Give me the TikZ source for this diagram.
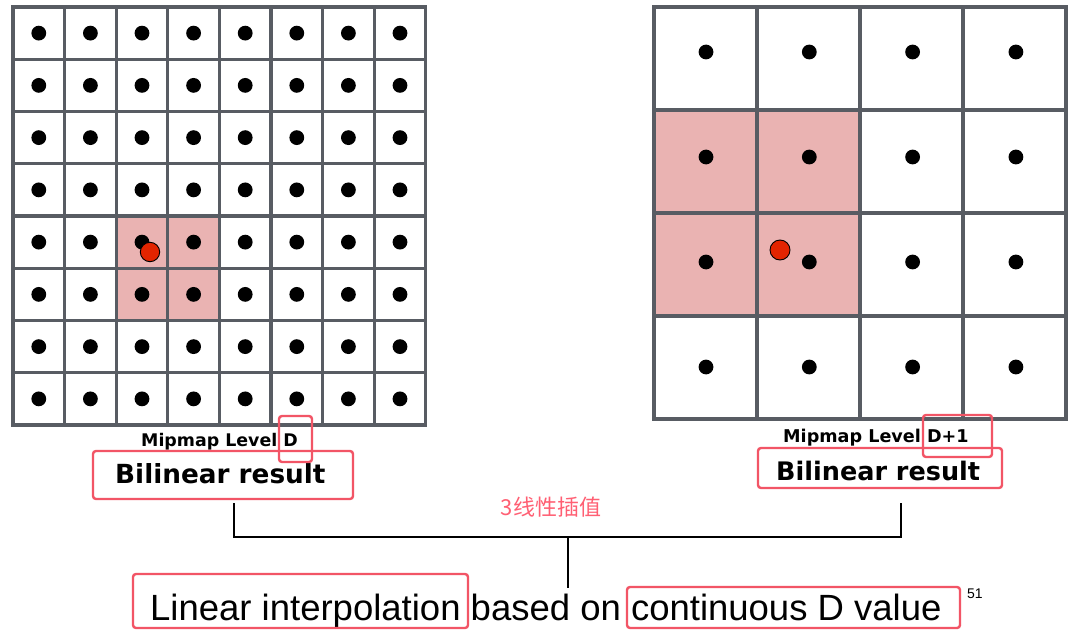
\documentclass[tikz,border=0pt]{standalone}
\usepackage{fontspec}
\setmainfont{Liberation Sans}
\newfontfamily\lblfont{DejaVu Sans}
\newfontfamily\cjkfont{Noto Sans CJK SC}
\definecolor{gridgray}{RGB}{88,92,99}
\definecolor{cellpink}{RGB}{234,179,178}
\definecolor{boxred}{RGB}{242,85,102}
\definecolor{cjkpink}{RGB}{255,95,115}
\definecolor{dotred}{RGB}{226,36,0}
\tikzset{
  gridline/.style={draw=gridgray, line width=3.1pt, line cap=rect},
  texel/.style={fill=black},
  sample/.style={fill=dotred, draw=black, line width=0.9pt},
  redbox/.style={draw=boxred, line width=2.4pt, rounded corners=3pt},
  bracket/.style={draw=black, line width=2.5pt},
  lbltext/.style={anchor=base west, inner sep=0pt, text=black},
}
\begin{document}
\begin{tikzpicture}[x=1pt,y=-1pt]
\useasboundingbox (0,0) rectangle (1078,631);
\fill[white] (0,0) rectangle (1078,631);

% ---------- left grid (level D) ----------
\fill[cellpink] ({13+2*51.6},{7+4*52.25}) rectangle ({13+4*51.6},{7+6*52.25});
\foreach \i in {0,...,8} {
  \draw[gridline] ({13+\i*51.6},7) -- ({13+\i*51.6},425);
  \draw[gridline] (13,{7+\i*52.25}) -- (425.8,{7+\i*52.25});
}
\foreach \i in {0,...,7} {
  \foreach \j in {0,...,7} {
    \fill[texel] ({13+(\i+0.5)*51.6},{7+(\j+0.5)*52.25}) circle[radius=7.4pt];
  }
}
\filldraw[sample] (150,252) circle[radius=9.7pt];

% ---------- right grid (level D+1) ----------
\fill[cellpink] (654,110) rectangle (860,316);
\foreach \i in {0,...,4} {
  \draw[gridline] ({654+\i*103},7) -- ({654+\i*103},419);
  \draw[gridline] (654,{7+\i*103}) -- (1066,{7+\i*103});
}
\foreach \i in {0,...,3} {
  \foreach \j in {0,...,3} {
    \fill[texel] ({706+\i*103.3},{52+\j*105}) circle[radius=7.4pt];
  }
}
\filldraw[sample] (780,250) circle[radius=10pt];

% ---------- labels ----------
\node[lbltext, font=\lblfont\bfseries\fontsize{17.4}{20}\selectfont] (mipL) at (141,446) {Mipmap Level D};
\node[lbltext, font=\lblfont\bfseries\fontsize{26.3}{30}\selectfont] (bilL) at (115,483) {Bilinear result};
\node[lbltext, font=\lblfont\bfseries\fontsize{17.6}{20}\selectfont] (mipR) at (783,442) {Mipmap Level D+1};
\node[lbltext, font=\lblfont\bfseries\fontsize{25.5}{30}\selectfont] (bilR) at (776,480) {Bilinear result};

\draw[redbox] (279,416) rectangle (312,462);
\draw[redbox] (93,451) rectangle (353,499);
\draw[redbox] (923,415) rectangle (992,457);
\draw[redbox] (758,448) rectangle (1002,488);

\node[font=\cjkfont\fontsize{22}{24}\selectfont, text=cjkpink, inner sep=0pt] (tri) at (551,507) {3线性插值};

% ---------- bracket ----------
\coordinate (bl) at (234,503);
\coordinate (br) at (901,503);
\coordinate (jn) at (568,537);
\coordinate (tip) at (568,588);
\draw[bracket] (bl) |- (jn) -| (br);
\draw[bracket] (jn) -- (tip);

% ---------- bottom text ----------
\node[lbltext, font=\fontsize{36.5}{40}\selectfont] (bottom) at (150,620) {Linear interpolation based on continuous D value};
\draw[redbox] (133,574) rectangle (468,628);
\draw[redbox] (627,587) rectangle (960,628);
\node[lbltext, font=\fontsize{14}{16}\selectfont] (pg) at (967,598) {51};
\end{tikzpicture}
\end{document}
